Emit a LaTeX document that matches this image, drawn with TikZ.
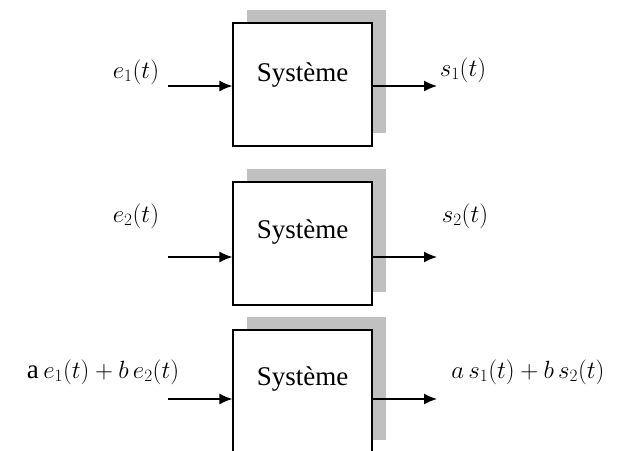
\documentclass[tikz,border=0pt]{standalone}
\usepackage{amsmath}
\usepackage{fontspec}
\setmainfont{Liberation Serif}
\usetikzlibrary{arrows.meta,shadows}
\definecolor{shadegray}{RGB}{192,192,192}
\tikzset{
    sysbox/.style={draw, line width=1.2pt, fill=white, minimum width=139pt, minimum height=123pt,
                   general shadow={fill=shadegray, shadow xshift=14pt, shadow yshift=13pt}},
    sig/.style={line width=1.4pt, -{Latex[length=13pt,width=11pt]}},
    lbl/.style={font=\fontsize{27}{30}\selectfont, inner sep=0pt}
}

\begin{document}
\begin{tikzpicture}[x=1pt,y=-1pt]
	\useasboundingbox (0,0) rectangle (618,450);
	% first system
	\node[sysbox] (sys1) at (302.5,84.5) {};
	\node[lbl] (txt1) at (302.5,75) {Syst\`eme};
	\coordinate (in1) at (168,86);
	\coordinate (out1) at (437,86);
	\draw[sig] (in1) -- (in1 -| sys1.west);   % input
	\draw[sig] (sys1.east |- out1) -- (out1); % output
	\node[lbl] (e1) at (136,72) {$e_1(t)$};
	\node[lbl] (s1) at (463,70) {$s_1(t)$};
	% second system
	\node[sysbox] (sys2) at (302.5,243.5) {};
	\node[lbl] (txt2) at (302.5,232) {Syst\`eme};
	\coordinate (in2) at (168,257);
	\coordinate (out2) at (437,257);
	\draw[sig] (in2) -- (in2 -| sys2.west);
	\draw[sig] (sys2.east |- out2) -- (out2);
	\node[lbl] (e2) at (136,216) {$e_2(t)$};
	\node[lbl] (s2) at (465,216) {$s_2(t)$};
	% third system
	\node[sysbox] (sys3) at (302.5,391.5) {};
	\node[lbl] (txt3) at (302.5,379) {Syst\`eme};
	\coordinate (in3) at (168,399);
	\coordinate (out3) at (437,399);
	\draw[sig] (in3) -- (in3 -| sys3.west);
	\draw[sig] (sys3.east |- out3) -- (out3);
	\node[lbl] (e3) at (103,372) {{\rmfamily a}\,$e_1(t)+b\,e_2(t)$};
	\node[lbl] (s3) at (528,372) {$a\,s_1(t)+b\,s_2(t)$};
\end{tikzpicture}
\end{document}
